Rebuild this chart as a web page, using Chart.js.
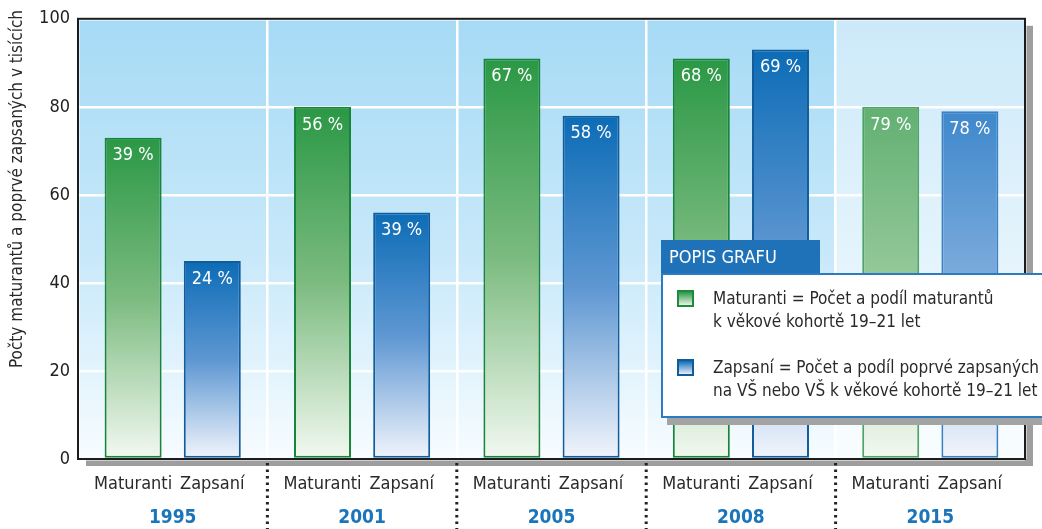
<!DOCTYPE html>
<html lang="cs">
<head>
<meta charset="utf-8">
<title>Maturanti a zapsaní</title>
<script src="https://cdn.jsdelivr.net/npm/chart.js@4/dist/chart.umd.min.js"></script>
<style>
  html, body { margin: 0; padding: 0; background: #fff; }
  #wrap { position: relative; width: 1042px; height: 529px; overflow: hidden; }
  #legend { position: absolute; left: 661px; top: 240px; font-family: "Liberation Sans Narrow", "DejaVu Sans Condensed", sans-serif; }
  #legend .tab { width: 159px; height: 33px; background: #1f72b8; color: #fff; font-size: 18px; line-height: 33px; padding-left: 8px; box-sizing: border-box; }
  #legend .box { width: 390px; height: 145px; background: #fff; border: 2px solid #2a7bc0; box-sizing: border-box; box-shadow: 6px 7px 0 #a3a3a3; padding: 12px 0 0 14px; }
  #legend .item { display: flex; font-size: 17px; line-height: 23px; color: #2a2a2a; margin-bottom: 23px; }
  #legend .sw { width: 13px; height: 13px; margin: 3px 19px 0 0; flex: none; border: 2px solid; }
</style>
</head>
<body>
<div id="wrap">
  <canvas id="myChart" width="1042" height="529"></canvas>
  <div id="legend"><div class="tab">POPIS GRAFU</div><div class="box" id="legendBox"></div></div>
</div>
<script>
// ===== data =====
const years = ['1995', '2001', '2005', '2008', '2015'];
const seriesNames = ['Maturanti', 'Zapsaní'];
const maturanti = [73, 80, 91, 91, 80];      // v tisících
const zapsani = [45, 56, 78, 93, 79];
const maturantiPct = [39, 56, 67, 68, 79];   // podíl k věkové kohortě
const zapsaniPct = [24, 39, 58, 69, 78];
const yTicks = [0, 20, 40, 60, 80, 100];
const legendTexts = [
  'Maturanti = Počet a podíl maturantů<br>k věkové kohortě 19–21 let',
  'Zapsaní = Počet a podíl poprvé zapsaných<br>na VŠ nebo VŠ k věkové kohortě 19–21 let'
];

const FONT = '"Liberation Sans Narrow", "DejaVu Sans Condensed", sans-serif';
Chart.defaults.font.family = FONT;

// barvy: [horní, střed, spodní], poslední rok světlejší
const greenStops = ['#2a9845', '#7cbb80', '#f3f9f1'];
const greenStopsLight = ['#62b072', '#97c99c', '#f3f9f1'];
const blueStops = ['#0c6cb6', '#5e97d2', '#f2f5fc'];
const blueStopsLight = ['#3e88cc', '#80addd', '#f2f5fc'];

function barFill(ctx, stops, lightStops) {
  const chart = ctx.chart;
  if (!chart.chartArea) return stops[0];
  const s = ctx.dataIndex === years.length - 1 ? lightStops : stops;
  const y = chart.scales.y;
  const g = chart.ctx.createLinearGradient(0, y.getPixelForValue(ctx.raw), 0, y.getPixelForValue(0));
  g.addColorStop(0, s[0]);
  g.addColorStop(0.5, s[1]);
  g.addColorStop(1, s[2]);
  return g;
}

// ===== legend (HTML) =====
const swatch = [
  'background:linear-gradient(#2a9845,#e8f4e6);border-color:#1e8a3c',
  'background:linear-gradient(#0c6cb6,#e8eefa);border-color:#115b99'
];
document.getElementById('legendBox').innerHTML = legendTexts.map((t, i) =>
  `<div class="item"><span class="sw" style="${swatch[i]}"></span><div>${t}</div></div>`).join('');

// ===== plugin: pozadí, rámeček, popisky =====
const decor = {
  id: 'decor',
  beforeDraw(chart) {
    const { ctx, chartArea: a, scales: { x } } = chart;
    ctx.save();
    ctx.fillStyle = '#9e9e9e';
    ctx.fillRect(a.left + 8, a.top + 7, a.right - a.left, a.bottom - a.top);
    const g = ctx.createLinearGradient(0, a.top, 0, a.bottom);
    g.addColorStop(0, '#a6daf5');
    g.addColorStop(0.55, '#c9e9fa');
    g.addColorStop(1, '#f7fcff');
    ctx.fillStyle = g;
    ctx.fillRect(a.left, a.top, a.right - a.left, a.bottom - a.top);
    // poslední sloupec světlejší
    const b = (x.getPixelForTick(3) + x.getPixelForTick(4)) / 2;
    const g2 = ctx.createLinearGradient(0, a.top, 0, a.bottom);
    g2.addColorStop(0, '#cce9f9');
    g2.addColorStop(1, '#f9fdff');
    ctx.fillStyle = g2;
    ctx.fillRect(b, a.top, a.right - b, a.bottom - a.top);
    ctx.restore();
  },
  afterDatasetsDraw(chart) {
    const { ctx } = chart;
    const pcts = [maturantiPct, zapsaniPct];
    ctx.save();
    ctx.fillStyle = '#fff';
    ctx.font = '18px ' + FONT;
    ctx.textAlign = 'center';
    ctx.textBaseline = 'middle';
    pcts.forEach((arr, di) => {
      chart.getDatasetMeta(di).data.forEach((bar, i) => {
        ctx.fillText(arr[i] + ' %', bar.x, bar.y + 18);
      });
    });
    ctx.restore();
  },
  afterDraw(chart) {
    const { ctx, chartArea: a, scales: { x } } = chart;
    ctx.save();
    ctx.strokeStyle = '#1c1c1c';
    ctx.lineWidth = 2;
    ctx.strokeRect(a.left, a.top, a.right - a.left, a.bottom - a.top);

    // tečkované oddělovače
    ctx.setLineDash([2.5, 4]);
    ctx.lineWidth = 3;
    ctx.strokeStyle = '#222';
    for (let i = 0; i < years.length - 1; i++) {
      const bx = (x.getPixelForTick(i) + x.getPixelForTick(i + 1)) / 2;
      ctx.beginPath();
      ctx.moveTo(bx, a.bottom + 4);
      ctx.lineTo(bx, 529);
      ctx.stroke();
    }
    ctx.setLineDash([]);

    // popisky os x
    ctx.textAlign = 'center';
    ctx.textBaseline = 'middle';
    ctx.fillStyle = '#2a2a2a';
    ctx.font = '18px ' + FONT;
    seriesNames.forEach((name, di) => {
      chart.getDatasetMeta(di).data.forEach(bar => ctx.fillText(name, bar.x, a.bottom + 25));
    });
    ctx.fillStyle = '#1b75bb';
    ctx.font = 'bold 19px ' + FONT;
    years.forEach((yr, i) => ctx.fillText(yr, x.getPixelForTick(i), a.bottom + 59));

    // název osy y
    ctx.translate(18, 189);
    ctx.rotate(-Math.PI / 2);
    ctx.fillStyle = '#2a2a2a';
    ctx.font = '17px ' + FONT;
    ctx.fillText('Počty maturantů a poprvé zapsaných v tisících', 0, 0);
    ctx.restore();
  }
};

// ===== chart =====
new Chart(document.getElementById('myChart'), {
  type: 'bar',
  data: {
    labels: years,
    datasets: [{
      label: seriesNames[0],
      data: maturanti,
      backgroundColor: c => barFill(c, greenStops, greenStopsLight),
      borderColor: c => c.dataIndex === years.length - 1 ? '#4ea464' : '#17843a',
      borderWidth: 2,
      borderSkipped: false,
      barPercentage: 0.72,
      categoryPercentage: 0.836,
    }, {
      label: seriesNames[1],
      data: zapsani,
      backgroundColor: c => barFill(c, blueStops, blueStopsLight),
      borderColor: c => c.dataIndex === years.length - 1 ? '#3a80c2' : '#125c9c',
      borderWidth: 2,
      borderSkipped: false,
      barPercentage: 0.72,
      categoryPercentage: 0.836,
    }],
  },
  options: {
    responsive: false,
    animation: false,
    layout: { padding: { top: 16, right: 17, left: 0, bottom: 0 } },
    plugins: { legend: { display: false }, tooltip: { enabled: false } },
    scales: {
      x: {
        grid: { color: '#ffffff', lineWidth: 2.5, drawTicks: false },
        border: { display: false },
        ticks: { display: false },
        afterFit: s => { s.height = 70; },
      },
      y: {
        min: 0, max: 100,
        afterBuildTicks: s => { s.ticks = yTicks.map(v => ({ value: v })); },
        grid: { color: '#ffffff', lineWidth: 2.5, drawTicks: false },
        border: { display: false },
        ticks: { color: '#222', font: { size: 18 }, padding: 8 },
        afterFit: s => { s.width = 78; },
      },
    },
  },
  plugins: [decor],
});
</script>
</body>
</html>
